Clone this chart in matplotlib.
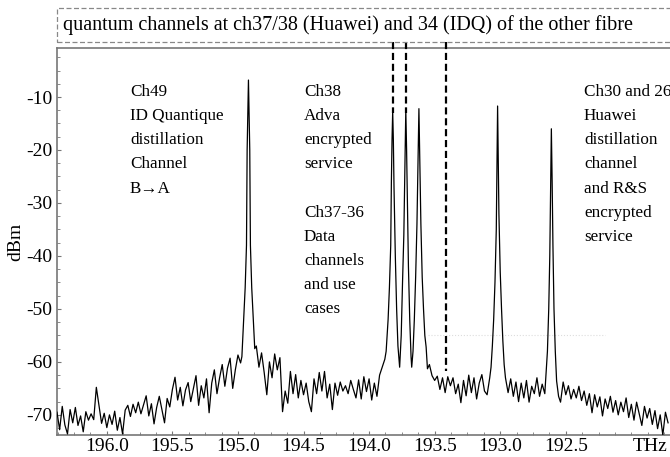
import numpy as np
import matplotlib
matplotlib.use("Agg")
import matplotlib.pyplot as plt
from matplotlib.ticker import MultipleLocator, FixedLocator
from matplotlib.patches import Rectangle

plt.rcParams['font.family'] = ['Liberation Serif', 'DejaVu Serif']
plt.rcParams['axes.unicode_minus'] = False

# ---------------- data ----------------
# baseline trace of the spectrum (dBm), sampled every 0.02 THz from 196.38 THz downwards
base_start = 196.38
base_step = 0.02
base_dbm = [
    -69.5, -72.8, -68.4, -71.9, -73.6, -69.0, -71.5, -68.6, -72.0, -70.2,
    -73.2, -69.4, -71.0, -69.8, -70.9, -64.8, -68.2, -71.6, -69.7, -72.4,
    -70.0, -71.8, -69.3, -72.9, -70.5, -73.6, -69.1, -68.2, -70.3, -68.0,
    -69.6, -67.6, -69.8, -68.1, -66.4, -70.2, -67.9, -71.7, -68.6, -66.5,
    -69.0, -71.5, -66.9, -68.5, -65.2, -62.9, -67.2, -64.8, -68.3, -65.3,
    -63.9, -67.5, -65.0, -62.6, -68.2, -64.5, -66.8, -63.2, -69.6, -64.0,
    -61.5, -66.0, -63.0, -60.5, -64.6, -61.2, -59.3, -65.0, -61.5, -58.7,
    -60.2, None, None, None, None, None, -57.0, -61.0, -58.3, -62.0,
    -66.2, -60.0, -63.0, -58.5, -61.5, -59.2, -69.4, -65.5, -67.8, -61.8,
    -66.0, -62.4, -66.8, -63.5, -66.2, -64.0, -67.5, -69.4, -63.2, -66.0,
    -62.0, -65.5, -61.8, -66.8, -64.2, -69.0, -64.0, -66.3, -63.8, -65.5,
    -64.5, -66.0, -63.5, -65.2, -66.8, -63.4, -67.0, -62.8, -65.6, -63.2,
    -67.2, -64.0, -66.5, -62.5, -61.0, -59.5, None, None, None, None,
    None, None, None, None, None, None, None, None, None, None,
    None, None, None, -62.6, -63.5, -62.7, -65.2, -63.0, -65.8, -62.8,
    -64.5, -63.0, -66.0, -64.2, -67.7, -63.5, -66.4, -62.5, -65.8, -63.0,
    -67.0, -64.0, -62.4, -65.5, -66.2, -63.0, None, None, None, None,
    None, None, -65.8, -63.2, -66.5, -63.8, -67.5, -64.0, -66.8, -63.5,
    -67.6, -64.6, -66.0, -63.0, -66.5, -64.2, -66.0, None, None, None,
    None, None, -67.6, -63.8, -66.2, -64.5, -67.0, -65.2, -66.8, -64.6,
    -67.3, -65.5, -68.2, -66.0, -69.6, -66.2, -68.5, -66.6, -70.2, -67.0,
    -68.8, -66.5, -69.5, -67.3, -70.0, -67.6, -69.4, -66.8, -70.5, -68.0,
    -71.0, -67.6, -69.8, -72.0, -68.4, -70.6, -68.8, -71.8, -69.2, -72.6,
    -70.0, -73.8, -69.5, -71.5,
]

# channel peaks (THz, dBm)
ch49_f = [194.97, 194.955, 194.945, 194.935, 194.93, 194.925, 194.92, 194.915, 194.91, 194.905, 194.895, 194.885, 194.872]
ch49_p = [-59.0, -51.0, -46.0, -38.0, -20.0, -13.0, -6.8, -13.0, -20.0, -38.0, -46.0, -51.0, -57.5]

ch38_f = [193.87, 193.855, 193.845, 193.835, 193.83, 193.825, 193.82, 193.815, 193.81, 193.80, 193.79, 193.78, 193.767]
ch38_p = [-58.0, -52.0, -46.0, -38.0, -26.0, -18.0, -12.7, -18.0, -27.0, -40.0, -50.0, -57.0, -61.0]

ch37_f = [193.755, 193.745, 193.735, 193.727, 193.72, 193.714, 193.708, 193.70, 193.69, 193.68, 193.675]
ch37_p = [-55.0, -45.0, -36.0, -24.0, -12.4, -20.0, -30.0, -42.0, -52.0, -59.0, -61.0]

ch36_f = [193.665, 193.655, 193.645, 193.635, 193.627, 193.62, 193.613, 193.605, 193.595, 193.585, 193.575, 193.565, 193.555, 193.54]
ch36_p = [-58.0, -52.0, -44.0, -34.0, -22.0, -12.2, -22.0, -34.0, -44.0, -50.0, -55.0, -57.2, -61.3, -60.5]

ch30_f = [193.07, 193.06, 193.05, 193.04, 193.03, 193.025, 193.02, 193.015, 193.01, 193.00, 192.99, 192.98, 192.97, 192.96]
ch30_p = [-61.0, -57.0, -52.0, -45.0, -35.0, -24.0, -11.7, -22.0, -32.0, -43.0, -50.0, -56.0, -60.5, -63.0]

ch26_f = [192.65, 192.64, 192.63, 192.622, 192.616, 192.61, 192.604, 192.598, 192.59, 192.58, 192.57, 192.555]
ch26_p = [-62.0, -58.0, -50.0, -40.0, -28.0, -16.0, -26.0, -38.0, -50.0, -58.0, -63.6, -66.5]

# quantum channels of the other fibre (THz) and where each marker ends (dBm)
quantum_f = [193.82, 193.72, 193.415]
quantum_end = [-13.0, -13.0, -61.8]

xticks = [196.0, 195.5, 195.0, 194.5, 194.0, 193.5, 193.0, 192.5]
yticks = [-70, -60, -50, -40, -30, -20, -10]

title_text = "quantum channels at ch37/38 (Huawei) and 34 (IDQ) of the other fibre"
note_ch49 = "Ch49\nID Quantique\ndistillation\nChannel\nB\u2192A"
note_ch38 = "Ch38\nAdva\nencrypted\nservice\n\nCh37-36\nData\nchannels\nand use\ncases"
note_ch30 = "Ch30 and 26\nHuawei\ndistillation\nchannel\nand R&S\nencrypted\nservice"

# ---------------- assemble trace ----------------
bf = base_start - base_step * np.arange(len(base_dbm))
bv = np.array([np.nan if v is None else v for v in base_dbm], dtype=float)
keep = ~np.isnan(bv)
freq = np.concatenate([bf[keep], ch49_f, ch38_f, ch37_f, ch36_f, ch30_f, ch26_f])
dbm = np.concatenate([bv[keep], ch49_p, ch38_p, ch37_p, ch36_p, ch30_p, ch26_p])
order = np.argsort(-freq)
freq, dbm = freq[order], dbm[order]

# ---------------- figure ----------------
FS_TITLE = 14.5
FS_TICK = 14
FS_NOTE = 12.3
W, H = 670, 457
fig = plt.figure(figsize=(W / 100, H / 100), dpi=100)
ax_l, ax_r, ax_t, ax_b = 57, 672, 48, 435
ax = fig.add_axes([ax_l / W, (H - ax_b) / H, (ax_r - ax_l) / W, (ax_b - ax_t) / H])

ax.plot(freq, dbm, color='black', lw=0.9, zorder=3)

# faint dotted artifact line
ax.plot([193.55, 192.2], [-54.9, -54.9], color='#dddddd', lw=0.8, ls=':', zorder=1)

for qf, qe in zip(quantum_f, quantum_end):
    ax.plot([qf, qf], [0.4, qe], color='black', lw=1.6, ls=(0, (3.2, 1.7)),
            clip_on=False, zorder=4)

ax.set_xlim(196.38, 191.69)
ax.set_ylim(-73.8, -0.75)

ax.xaxis.set_major_locator(FixedLocator(xticks))
ax.xaxis.set_minor_locator(MultipleLocator(0.125))
ax.set_xticklabels([f"{t:.1f}" for t in xticks])
ax.yaxis.set_major_locator(FixedLocator(yticks))
ax.yaxis.set_minor_locator(MultipleLocator(2.5))
ax.set_yticklabels([str(t) for t in yticks])

ax.tick_params(which='both', direction='in', color='#777777', labelsize=FS_TICK)
ax.tick_params(axis='x', which='both', pad=2.5)
ax.tick_params(axis='y', which='both', pad=3.5)
ax.tick_params(which='major', length=3, width=0.8)
ax.tick_params(which='minor', length=2, width=0.6)
ax.tick_params(axis='x', which='both', top=False)
ax.tick_params(axis='y', which='both', right=False)

for s in ['left', 'bottom', 'top']:
    ax.spines[s].set_color('#777777')
    ax.spines[s].set_linewidth(1.2)
ax.spines['right'].set_visible(False)

ax.set_ylabel('dBm', fontsize=FS_TICK, labelpad=1)

ax.annotate('THz', xy=(191.86, 0), xycoords=('data', 'axes fraction'),
            xytext=(0, -2.5), textcoords='offset points', ha='center', va='top',
            fontsize=FS_TICK)

def px_ax(x, y):
    return ((x - ax_l) / (ax_r - ax_l), (ax_b - y) / (ax_b - ax_t))

for txt, (x, y) in [(note_ch49, (130, 84)), (note_ch38, (304, 84)), (note_ch30, (584, 84))]:
    ax.text(*px_ax(x, y), txt, transform=ax.transAxes, ha='left', va='top',
            fontsize=FS_NOTE, linespacing=1.68, zorder=5)

# title box
bx0, bx1, by0, by1 = 57, 675, 8, 42
fig.patches.append(Rectangle((bx0 / W, (H - by1) / H), (bx1 - bx0) / W, (by1 - by0) / H,
                             transform=fig.transFigure, fill=False, edgecolor='#888888',
                             lw=0.9, ls=(0, (4, 2))))
fig.text(63 / W, (H - 25) / H, title_text, ha='left', va='center', fontsize=FS_TITLE)

fig.savefig('out.png', dpi=100)
